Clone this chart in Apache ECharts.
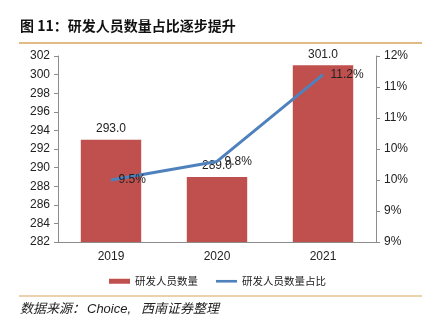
<!DOCTYPE html>
<html>
<head>
<meta charset="utf-8">
<script src="https://cdn.jsdelivr.net/npm/echarts@6/dist/echarts.min.js"></script>
<style>
  html, body { margin: 0; padding: 0; background: #fff; }
  #chart { width: 435px; height: 327px; }
</style>
</head>
<body>
<div id="chart"></div>
<script>
// R&D headcount and its share of total staff, 2019–2021
const years = ['2019', '2020', '2021'];
const rdStaff = [293.0, 289.0, 301.0];
const rdShare = [9.5, 9.8, 11.2];
const staffAxis = { min: 282, max: 302, interval: 2 };
const shareAxis = { min: 8.5, max: 11.5, interval: 0.5 };

const titleText = '图 11：研发人员数量占比逐步提升';
const sourceParts = ['数据来源：', 'Choice,', '西南证券整理'];
const legendNames = ['研发人员数量', '研发人员数量占比'];

const cjk = '"Liberation Sans", Arial, "Noto Sans CJK SC", sans-serif';
const axisGray = '#8c8c8c';
const barRed = '#C0504D';
const lineBlue = '#4F81BD';
const ruleGold = '#D9A35C';
const noteFont = 'italic 13px "Liberation Sans", "Noto Sans CJK SC", sans-serif';

const chart = echarts.init(document.getElementById('chart'), null, { renderer: 'canvas' });

chart.setOption({
  animation: false,
  backgroundColor: '#fff',
  textStyle: { fontFamily: cjk },
  graphic: [
    {
      type: 'text', left: 20, top: 19,
      style: { text: titleText, font: 'bold 14px "Noto Sans CJK SC", sans-serif', fill: '#111' }
    },
    {
      type: 'line', shape: { x1: 19, y1: 43, x2: 422, y2: 43 },
      style: { stroke: ruleGold, lineWidth: 1.5 }
    },
    {
      type: 'line', shape: { x1: 19, y1: 296, x2: 422, y2: 296 },
      style: { stroke: ruleGold, lineWidth: 1.2 }
    },
    { type: 'text', left: 20, top: 303, style: { text: sourceParts[0], font: noteFont, fill: '#222' } },
    { type: 'text', left: 87, top: 303, style: { text: sourceParts[1], font: noteFont, fill: '#222' } },
    { type: 'text', left: 141, top: 303, style: { text: sourceParts[2], font: noteFont, fill: '#222' } }
  ],
  legend: {
    data: [
      { name: legendNames[0], icon: 'rect', itemStyle: { color: barRed } },
      { name: legendNames[1], icon: 'path://M0,0 L24,0 L24,3 L0,3 Z', itemStyle: { color: lineBlue } }
    ],
    top: 271,
    left: 'center',
    itemWidth: 21,
    itemHeight: 5,
    itemGap: 18,
    textStyle: { fontSize: 10.5, color: '#222', fontFamily: '"Noto Sans CJK SC", sans-serif' }
  },
  grid: { left: 58, right: 59, top: 56, bottom: 85, containLabel: false },
  xAxis: {
    type: 'category',
    data: years,
    axisLine: { lineStyle: { color: axisGray, width: 1 } },
    axisTick: { show: false },
    axisLabel: { color: '#222', fontSize: 12, margin: 9 }
  },
  yAxis: [
    {
      type: 'value',
      position: 'left',
      min: staffAxis.min, max: staffAxis.max, interval: staffAxis.interval,
      splitLine: { show: false },
      axisLine: { show: true, lineStyle: { color: axisGray } },
      axisTick: { show: true, length: 4, lineStyle: { color: axisGray } },
      axisLabel: { color: '#222', fontSize: 12, margin: 8 }
    },
    {
      type: 'value',
      position: 'right',
      min: shareAxis.min, max: shareAxis.max, interval: shareAxis.interval,
      splitLine: { show: false },
      axisLine: { show: true, lineStyle: { color: axisGray } },
      axisTick: { show: true, length: 4, lineStyle: { color: axisGray } },
      axisLabel: {
        color: '#222', fontSize: 12, margin: 8,
        formatter: v => Math.round(v) + '%'
      }
    }
  ],
  series: [
    {
      name: legendNames[0],
      type: 'bar',
      yAxisIndex: 0,
      data: rdStaff,
      barWidth: '57%',
      itemStyle: { color: barRed },
      label: {
        show: true, position: 'top', distance: 5,
        color: '#222', fontSize: 12,
        formatter: p => p.value.toFixed(1)
      }
    },
    {
      name: legendNames[1],
      type: 'line',
      yAxisIndex: 1,
      data: rdShare,
      symbol: 'circle',
      symbolSize: 1,
      showSymbol: true,
      lineStyle: { color: lineBlue, width: 3 },
      itemStyle: { color: 'rgba(0,0,0,0)' },
      label: {
        show: true, position: 'right', distance: 7,
        color: '#222', fontSize: 12,
        formatter: p => p.value.toFixed(1) + '%'
      },
      z: 5
    }
  ]
});
</script>
</body>
</html>
